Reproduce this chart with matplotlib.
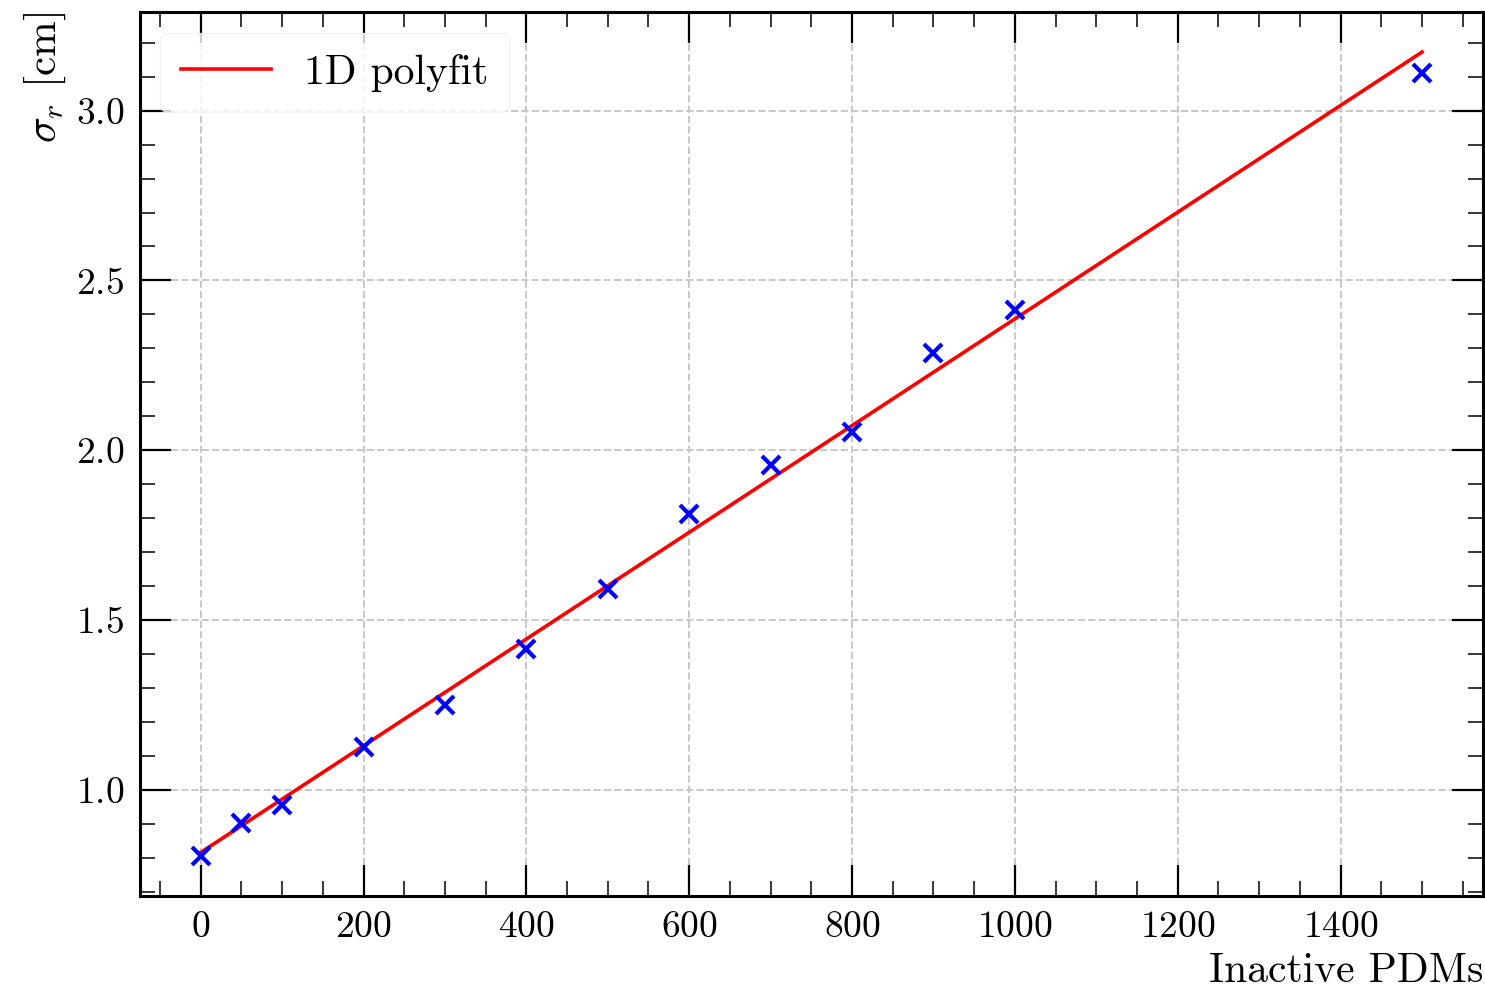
import numpy as np
import matplotlib
matplotlib.use("Agg")
from matplotlib import pyplot as plt
from matplotlib.ticker import MultipleLocator

# measured resolution vs number of inactive PDMs
inactive = [0, 50, 100, 200, 300, 400, 500, 600, 700, 800, 900, 1000, 1500]
sigma_r = [0.806, 0.903, 0.956, 1.126, 1.250, 1.415, 1.591, 1.812, 1.956, 2.053,
           2.285, 2.412, 3.112]

plt.rcParams['font.family'] = ['cmr10', 'DejaVu Serif']
plt.rcParams['mathtext.fontset'] = 'cm'
plt.rcParams['axes.formatter.use_mathtext'] = True
plt.rcParams['axes.unicode_minus'] = False

fig, ax = plt.subplots(figsize=(14.85, 9.92), dpi=100)

coef = np.polyfit(inactive, sigma_r, 1)
fit = np.polyval(coef, inactive)
ax.plot(inactive, fit, color='red', lw=2.6, label='1D polyfit', zorder=3)
ax.plot(inactive, sigma_r, 'x', color='blue', ms=13, mew=3, zorder=4)

ax.xaxis.set_major_locator(MultipleLocator(200))
ax.xaxis.set_minor_locator(MultipleLocator(50))
ax.yaxis.set_major_locator(MultipleLocator(0.5))
ax.yaxis.set_minor_locator(MultipleLocator(0.1))
ax.tick_params(which='both', direction='in', top=True, right=True, labelsize=27)
ax.tick_params(which='major', length=22, width=1.6, pad=11)
ax.tick_params(which='minor', length=11, width=1.1)
for s in ax.spines.values():
    s.set_linewidth(2.2)

ax.grid(True, which='major', ls='--', color='#c8c8c8', lw=1.4)
ax.set_axisbelow(True)

ax.set_xlabel('Inactive PDMs', loc='right', fontsize=30, labelpad=6)
ax.set_ylabel(r'$\sigma_r$ [cm]', loc='top', fontsize=31, labelpad=6)

ax.legend(loc='upper left', fontsize=30, handlelength=2.15, framealpha=0.8,
          edgecolor='#f0f0f0', borderpad=0.5)

fig.subplots_adjust(left=0.094, right=0.9987, top=0.988, bottom=0.097)
fig.savefig('out.png', dpi=100)
